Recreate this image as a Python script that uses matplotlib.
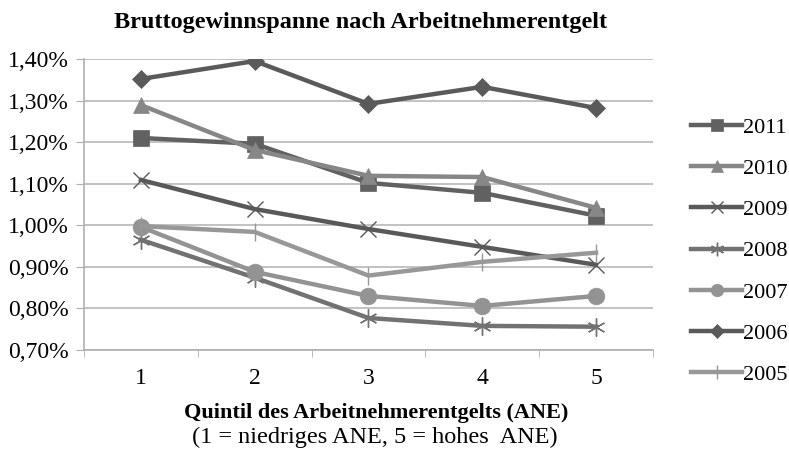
import matplotlib.pyplot as plt
from matplotlib.ticker import FuncFormatter, FixedLocator

plt.rcParams['font.family'] = ['Liberation Serif', 'DejaVu Serif']

quintile = [1, 2, 3, 4, 5]
years = ['2011', '2010', '2009', '2008', '2007', '2006', '2005']

# Bruttogewinnspanne in %
v2011 = [1.210, 1.196, 1.102, 1.078, 1.023]
v2010 = [1.289, 1.181, 1.119, 1.116, 1.042]
v2009 = [1.109, 1.039, 0.991, 0.948, 0.905]
v2008 = [0.965, 0.874, 0.777, 0.758, 0.756]
v2007 = [0.996, 0.888, 0.830, 0.806, 0.830]
v2006 = [1.352, 1.395, 1.292, 1.333, 1.282]
v2005 = [0.998, 0.984, 0.879, 0.912, 0.934]

series = [v2011, v2010, v2009, v2008, v2007, v2006, v2005]
colors = ['#616161', '#878787', '#595959', '#727272', '#939393', '#5a5a5a', '#989898']
markers = ['s', '^', 'x', (6, 2, 0), 'o', 'D', '|']
msizes = [11, 11, 12, 13, 12, 9, 13]

fig = plt.figure(figsize=(7.89, 4.53), dpi=100)
ax = fig.add_axes([0.1065, 0.2274, 0.721, 0.6424])

handles = []
for name, vals, c, m, ms in zip(years, series, colors, markers, msizes):
    thin = m in ('x', '|') or isinstance(m, tuple)
    h, = ax.plot(quintile, vals, color=c, lw=3.2, marker=m, markersize=ms,
                 markeredgewidth=1.0 if thin else 0.5, markeredgecolor=c,
                 label=name, solid_joinstyle='round')
    handles.append(h)

ax.set_xlim(0.5, 5.5)
ax.set_ylim(0.70, 1.40)
ax.set_yticks([0.70, 0.80, 0.90, 1.00, 1.10, 1.20, 1.30, 1.40])
ax.yaxis.set_major_formatter(FuncFormatter(lambda v, p: f'{v:.2f}%'.replace('.', ',')))
ax.set_xticks(quintile)
ax.xaxis.set_minor_locator(FixedLocator([0.5, 1.5, 2.5, 3.5, 4.5, 5.5]))
ax.tick_params(axis='x', which='major', length=0, labelsize=17, pad=13)
ax.tick_params(axis='x', which='minor', length=5, color='#b0b0b0')
ax.tick_params(axis='y', length=5.8, color='#b0b0b0', labelsize=17, pad=5)

ax.grid(axis='y', color='#b8b8b8', lw=1.2)
ax.set_axisbelow(True)
for s in ['top', 'right']:
    ax.spines[s].set_visible(False)
for s in ['left', 'bottom']:
    ax.spines[s].set_color('#b0b0b0')
    ax.spines[s].set_linewidth(1.2)

fig.text(0.457, 0.951, 'Bruttogewinnspanne nach Arbeitnehmerentgelt',
         ha='center', va='center', fontsize=17.5, fontweight='bold')
fig.text(0.477, 0.088, 'Quintil des Arbeitnehmerentgelts (ANE)',
         ha='center', va='center', fontsize=16, fontweight='bold')
fig.text(0.475, 0.035, '(1 = niedriges ANE, 5 = hohes  ANE)',
         ha='center', va='center', fontsize=17.5)

fig.legend(handles=handles, loc='upper left', bbox_to_anchor=(0.862, 0.766),
           frameon=False, fontsize=16, handlelength=2.3, handletextpad=0.05,
           labelspacing=0.93, markerscale=0.75, borderpad=0)

plt.savefig('out.png', dpi=100)
